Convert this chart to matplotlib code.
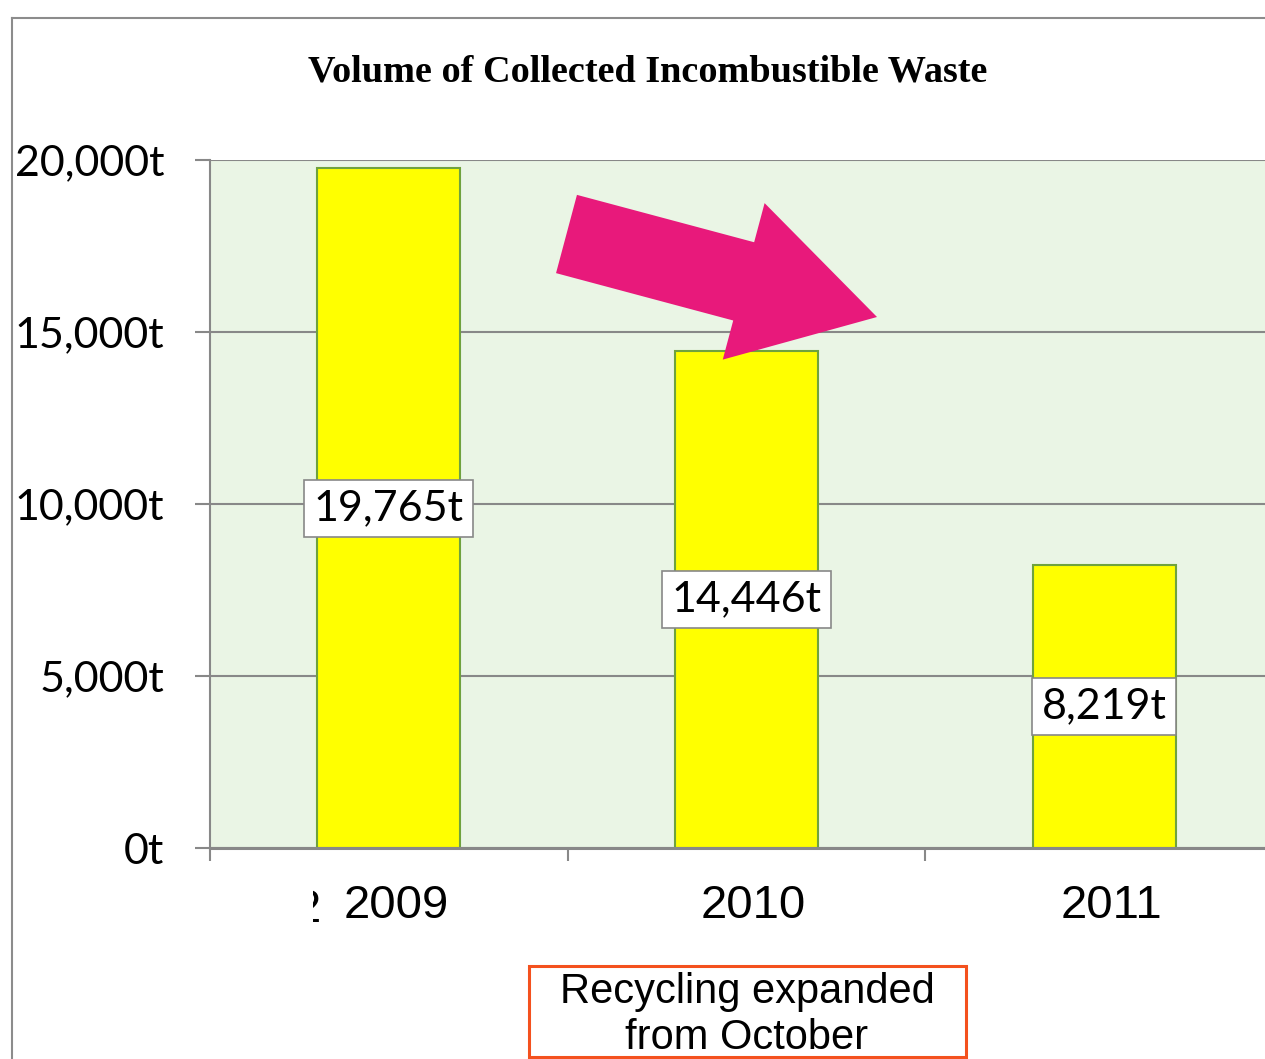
import matplotlib.pyplot as plt
from matplotlib.patches import FancyArrow, Rectangle
from matplotlib.lines import Line2D
from matplotlib.transforms import ScaledTranslation, Bbox, TransformedBbox

years = ['2009', '2010', '2011']
volumes = [19765, 14446, 8219]
value_labels = ['19,765t', '14,446t', '8,219t']
yticks = [0, 5000, 10000, 15000, 20000]
ytick_labels = ['0t', '5,000t', '10,000t', '15,000t', '20,000t']
title = 'Volume of Collected Incombustible Waste'
note = 'Recycling expanded\nfrom October'

W, H = 1265, 1059
fig = plt.figure(figsize=(W / 100, H / 100), dpi=100)
inch = fig.dpi_scale_trans

# gray frame of the original chart object (partly cut off)
fig.add_artist(Line2D([12 / 100, 12 / 100], [(H - 18) / 100, 0], transform=inch,
                      color='#8c8c8c', lw=1.5))
fig.add_artist(Line2D([12 / 100, W / 100], [(H - 18) / 100, (H - 18) / 100], transform=inch,
                      color='#8c8c8c', lw=1.5))

ax = fig.add_axes([210 / W, 1 - 848 / H, 1073 / W, 688 / H])
ax.set_facecolor('#EAF5E5')
x = range(len(years))
ax.bar(x, volumes, width=0.4, color='#FFFF00', edgecolor='#6FA23E', linewidth=1.5, zorder=2)
ax.set_xlim(-0.5, 2.5)
ax.set_ylim(0, 20000)
ax.set_axisbelow(True)
ax.yaxis.grid(True, color='#888888', lw=1.5)

for s in ['top', 'right']:
    ax.spines[s].set_visible(False)
ax.spines['left'].set_color('#888888')
ax.spines['left'].set_linewidth(1.5)
ax.spines['bottom'].set_color('#888888')
ax.spines['bottom'].set_linewidth(2.2)

ax.set_yticks(yticks)
ax.set_yticklabels(ytick_labels, fontfamily='Lato', fontsize=31)
ax.tick_params(axis='y', length=11, width=1.5, color='#888888', pad=22)

ax.set_xticks(list(x))
ax.set_xticklabels(years, fontfamily='Liberation Sans', fontsize=34)
ax.set_xticks([-0.5, 0.5, 1.5, 2.5], minor=True)
ax.tick_params(axis='x', which='major', length=0, pad=26)
ax.tick_params(axis='x', which='minor', length=9, width=1.5, color='#888888')
shift = ScaledTranslation(0.07, 0, inch)
for lab in ax.get_xticklabels():
    lab.set_transform(lab.get_transform() + shift)

for i, (v, lab) in enumerate(zip(volumes, value_labels)):
    ax.text(i, v / 2, lab, ha='center', va='center', fontfamily='Lato', fontsize=31, zorder=4,
            bbox=dict(boxstyle='square,pad=0.22', fc='white', ec='#888888', lw=1.2))

# title
fig.text(648 / W, 1 - 72 / H, title, ha='center', va='center',
         fontfamily='Liberation Serif', fontweight='bold', fontsize=27.5)

# pink trend arrow (drawn in inches)
tail = (566.5 / 100, (H - 234) / 100)
tip = (877 / 100, (H - 317) / 100)
fig.add_artist(FancyArrow(tail[0], tail[1], tip[0] - tail[0], tip[1] - tail[1],
                          width=0.81, head_width=1.62, head_length=1.38,
                          length_includes_head=True, transform=inch,
                          color='#E8197B', lw=0, zorder=5))

# stray clipped label fragment
frag = fig.text(321 / 100, (H - 922) / 100, '2', transform=inch, ha='right', va='baseline',
                fontfamily='Liberation Sans', fontsize=34)
frag.set_clip_box(TransformedBbox(Bbox([[3.13, 0], [3.3, 2.0]]), inch))
frag.set_clip_on(True)

# annotation box
fig.add_artist(Rectangle((529 / 100, (H - 1057) / 100), 437 / 100, 91 / 100, transform=inch,
                         fill=False, ec='#F4511E', lw=2.2))
fig.text(747 / W, 1 - 1015 / H, note, ha='center', va='center', fontfamily='Liberation Sans',
         fontsize=30, linespacing=1.2)

fig.savefig('out.png', dpi=100)
